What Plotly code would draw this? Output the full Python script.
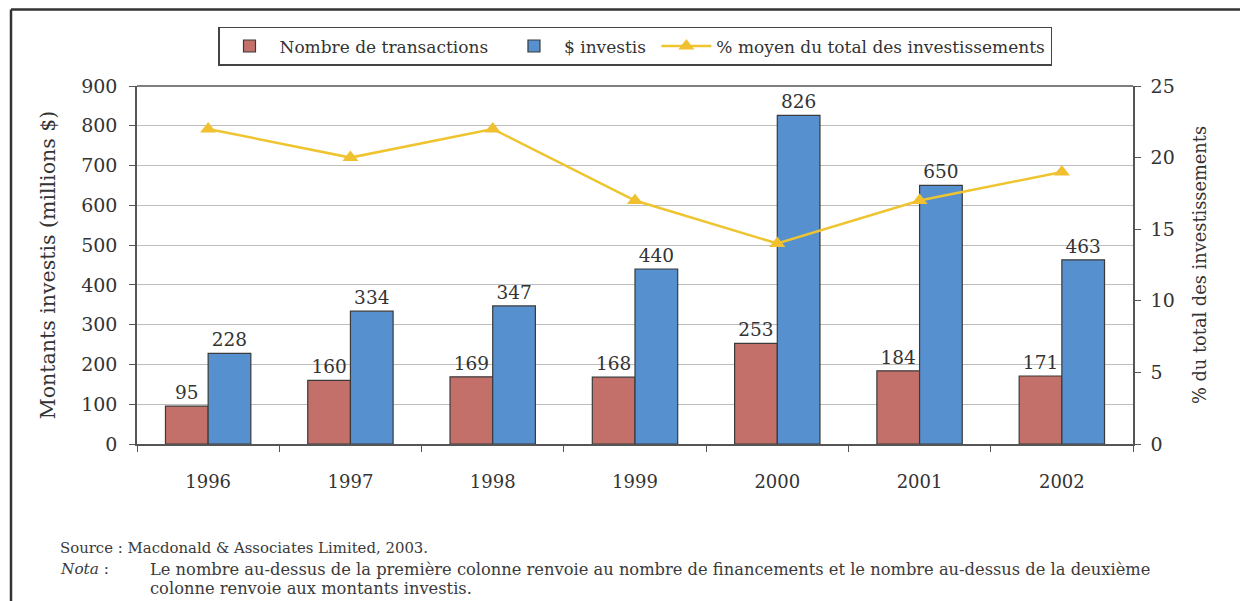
import plotly.graph_objects as go

years = ["1996", "1997", "1998", "1999", "2000", "2001", "2002"]
transactions = [95, 160, 169, 168, 253, 184, 171]
invested = [228, 334, 347, 440, 826, 650, 463]
pct_total = [22, 20, 22, 17, 14, 17, 19]

SERIF = "DejaVu Serif"
TXT = "#333333"
NB = "\u00a0"

fig = go.Figure()
fig.add_trace(go.Bar(
    x=years, y=transactions, name="Nombre de transactions" + NB * 2,
    marker=dict(color="#C4706A", line=dict(color="#3a3a3a", width=1.2)),
    text=transactions, textposition="outside",
    textfont=dict(family=SERIF, size=18.5, color=TXT), cliponaxis=False,
))
fig.add_trace(go.Bar(
    x=years, y=invested, name="$ investis" + NB,
    marker=dict(color="#5690CE", line=dict(color="#3a3a3a", width=1.2)),
    text=invested, textposition="outside",
    textfont=dict(family=SERIF, size=18.5, color=TXT), cliponaxis=False,
))
fig.add_trace(go.Scatter(
    x=years, y=pct_total, name="% moyen du total des investissements",
    yaxis="y2", mode="lines+markers",
    line=dict(color="#EEC530", width=2.5),
    marker=dict(symbol="triangle-up", size=14, color="#F0C030"),
    cliponaxis=False,
))

fig.update_layout(
    width=1240, height=593,
    margin=dict(l=129, r=115, t=78, b=157),
    paper_bgcolor="white", plot_bgcolor="white",
    barmode="group", bargap=0.4, bargroupgap=0,
    font=dict(family=SERIF, color=TXT, size=17),
    showlegend=True,
    legend=dict(
        orientation="h", x=0.5, xanchor="center", y=1.165, yanchor="top",
        bordercolor="#444444", borderwidth=1.5, bgcolor="white",
        font=dict(family=SERIF, size=17, color=TXT),
        itemwidth=50, traceorder="normal",
    ),
    xaxis=dict(
        type="category", tickson="boundaries", ticks="outside", ticklen=6,
        tickcolor="#555555", showline=True, linecolor="#555555", linewidth=1.5,
        mirror=False, showgrid=False, tickfont=dict(family=SERIF, size=18, color=TXT),
        ticklabelstandoff=21,
    ),
    yaxis=dict(
        range=[0, 900], dtick=100, showgrid=True, gridcolor="#BDBDBD", gridwidth=1,
        showline=True, linecolor="#555555", linewidth=1.5, ticks="outside",
        ticklen=6, tickcolor="#555555", zeroline=False, ticklabelstandoff=8,
        tickfont=dict(family=SERIF, size=19, color=TXT),
        title=dict(text="Montants investis (millions $)", standoff=20,
                   font=dict(family=SERIF, size=20.5, color=TXT)),
    ),
    yaxis2=dict(
        range=[0, 25], dtick=5, overlaying="y", side="right", showgrid=False,
        showline=True, linecolor="#555555", linewidth=1.5, ticks="outside",
        ticklen=6, tickcolor="#555555", zeroline=False, ticklabelstandoff=6,
        tickfont=dict(family=SERIF, size=19, color=TXT),
        title=dict(text="% du total des investissements", standoff=20,
                   font=dict(family=SERIF, size=17.8, color=TXT)),
    ),
)

# top border of plot frame
fig.add_shape(type="line", xref="paper", yref="paper", x0=0, x1=1, y0=1, y1=1,
              line=dict(color="#555555", width=1.5))

# outer frame (left and top edges)
fig.add_shape(type="line", xref="paper", yref="paper",
              x0=-0.1265, x1=-0.1265, y0=-0.45, y1=1.214,
              line=dict(color="#333333", width=2.5))
fig.add_shape(type="line", xref="paper", yref="paper",
              x0=-0.1265, x1=1.12, y0=1.214, y1=1.214,
              line=dict(color="#333333", width=2.5))

notes = [
    (58, 548, "Source : Macdonald & Associates Limited, 2003.", 14.9),
    (58, 569, "<i>Nota</i> :", 15.3),
    (148, 569, "Le nombre au-dessus de la première colonne renvoie au nombre de financements et le nombre au-dessus de la deuxième", 16.3),
    (148, 588, "colonne renvoie aux montants investis.", 16.3),
]
for px, py, t, fs in notes:
    fig.add_annotation(
        xref="paper", yref="paper",
        x=(px - 137) / 996, y=(444 - py) / 358,
        xanchor="left", yanchor="middle", showarrow=False,
        text=t, font=dict(family=SERIF, size=fs, color="#3a3a3a"),
    )

fig.write_html("out.html")
